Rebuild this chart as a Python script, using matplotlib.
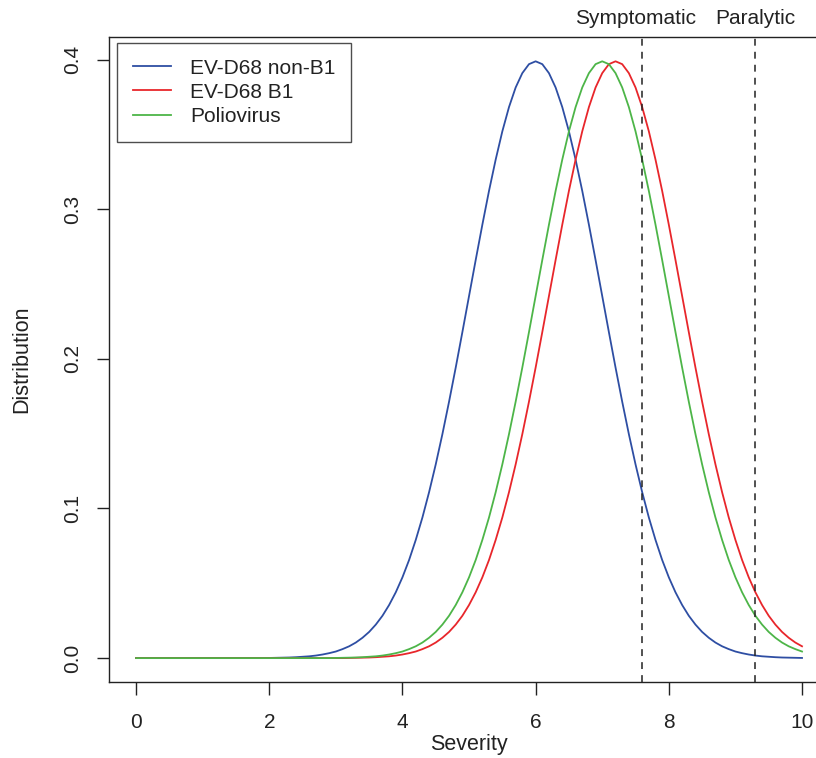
import matplotlib
matplotlib.use("Agg")
import matplotlib.pyplot as plt
from matplotlib.lines import Line2D

plt.rcParams['font.family'] = ['Liberation Sans', 'DejaVu Sans']

# Severity grid (0 to 10, step 0.1)
severity = [i / 10 for i in range(101)]

# Distribution values
non_b1 = [0.0] * 20 + [
    0.0001, 0.0002, 0.0003, 0.0004, 0.0006, 0.0009, 0.0012, 0.0017, 0.0024, 0.0033,
    0.0044, 0.0060, 0.0079, 0.0104, 0.0136, 0.0175, 0.0224, 0.0283, 0.0355, 0.0440,
    0.0540, 0.0656, 0.0790, 0.0940, 0.1109, 0.1295, 0.1497, 0.1714, 0.1942, 0.2179,
    0.2420, 0.2661, 0.2897, 0.3123, 0.3332, 0.3521, 0.3683, 0.3814, 0.3910, 0.3970,
    0.3989,
    0.3970, 0.3910, 0.3814, 0.3683, 0.3521, 0.3332, 0.3123, 0.2897, 0.2661, 0.2420,
    0.2179, 0.1942, 0.1714, 0.1497, 0.1295, 0.1109, 0.0940, 0.0790, 0.0656, 0.0540,
    0.0440, 0.0355, 0.0283, 0.0224, 0.0175, 0.0136, 0.0104, 0.0079, 0.0060, 0.0044,
    0.0033, 0.0024, 0.0017, 0.0012, 0.0009, 0.0006, 0.0004, 0.0003, 0.0002, 0.0001,
]

b1 = [0.0] * 32 + [
    0.0001, 0.0002, 0.0003, 0.0004, 0.0006, 0.0009, 0.0012, 0.0017, 0.0024, 0.0033,
    0.0044, 0.0060, 0.0079, 0.0104, 0.0136, 0.0175, 0.0224, 0.0283, 0.0355, 0.0440,
    0.0540, 0.0656, 0.0790, 0.0940, 0.1109, 0.1295, 0.1497, 0.1714, 0.1942, 0.2179,
    0.2420, 0.2661, 0.2897, 0.3123, 0.3332, 0.3521, 0.3683, 0.3814, 0.3910, 0.3970,
    0.3989,
    0.3970, 0.3910, 0.3814, 0.3683, 0.3521, 0.3332, 0.3123, 0.2897, 0.2661, 0.2420,
    0.2179, 0.1942, 0.1714, 0.1497, 0.1295, 0.1109, 0.0940, 0.0790, 0.0656, 0.0540,
    0.0440, 0.0355, 0.0283, 0.0224, 0.0175, 0.0136, 0.0104, 0.0079,
]

polio = [0.0] * 30 + [
    0.0001, 0.0002, 0.0003, 0.0004, 0.0006, 0.0009, 0.0012, 0.0017, 0.0024, 0.0033,
    0.0044, 0.0060, 0.0079, 0.0104, 0.0136, 0.0175, 0.0224, 0.0283, 0.0355, 0.0440,
    0.0540, 0.0656, 0.0790, 0.0940, 0.1109, 0.1295, 0.1497, 0.1714, 0.1942, 0.2179,
    0.2420, 0.2661, 0.2897, 0.3123, 0.3332, 0.3521, 0.3683, 0.3814, 0.3910, 0.3970,
    0.3989,
    0.3970, 0.3910, 0.3814, 0.3683, 0.3521, 0.3332, 0.3123, 0.2897, 0.2661, 0.2420,
    0.2179, 0.1942, 0.1714, 0.1497, 0.1295, 0.1109, 0.0940, 0.0790, 0.0656, 0.0540,
    0.0440, 0.0355, 0.0283, 0.0224, 0.0175, 0.0136, 0.0104, 0.0079, 0.0060, 0.0044,
]

series_names = ["EV-D68 non-B1", "EV-D68 B1", "Poliovirus"]
series_colors = ["#2E4EA3", "#E8262B", "#4DB548"]

thresholds = [7.6, 9.3]
threshold_label_pos = [7.5, 9.3]
threshold_labels = ["Symptomatic", "Paralytic"]

x_ticks = [0, 2, 4, 6, 8, 10]
y_ticks = [0.0, 0.1, 0.2, 0.3, 0.4]
y_tick_labels = ["0.0", "0.1", "0.2", "0.3", "0.4"]

fig = plt.figure(figsize=(8.16, 7.58), dpi=100)
ax = fig.add_axes([0.1341, 0.1003, 0.8814, 0.8503])

for vals, name, col in zip([non_b1, b1, polio], series_names, series_colors):
    ax.plot(severity, vals, color=col, lw=1.3, label=name)

for t in thresholds:
    ax.axvline(t, color="#222222", lw=1.1, ls=(0, (4.5, 4)))

ymax = max(max(non_b1), max(b1), max(polio))
ax.set_xlim(-0.4, 10.4)
ax.set_ylim(-0.04 * ymax, 1.04 * ymax)

ax.set_xticks(x_ticks)
ax.set_xticklabels([str(v) for v in x_ticks])
ax.set_yticks(y_ticks)
ax.set_yticklabels(y_tick_labels, rotation=90, va="center")
ax.tick_params(direction="out", length=9, width=1.0, labelsize=15, colors="#222222", pad=13)
ax.tick_params(axis="y", pad=11)

for s in ax.spines.values():
    s.set_linewidth(1.0)
    s.set_color("#222222")

ax.set_xlabel("Severity", fontsize=15.5, color="#222222", labelpad=2)
ax.set_ylabel("Distribution", fontsize=15.5, color="#222222", labelpad=22)

for pos, lab in zip(threshold_label_pos, threshold_labels):
    ax.text(pos, 1.014, lab, transform=ax.get_xaxis_transform(), ha="center", va="bottom",
            fontsize=15, color="#222222")

handles = [Line2D([], [], color=c, lw=1.3) for c in series_colors]
leg = ax.legend(handles, series_names, loc="upper left", bbox_to_anchor=(0.0106, 0.9915),
                borderaxespad=0, frameon=True, fancybox=False, fontsize=15,
                handlelength=1.85, handletextpad=0.92, labelspacing=0.25,
                borderpad=0.75, handleheight=0.7)
leg.get_frame().set_edgecolor("#222222")
leg.get_frame().set_linewidth(1.0)
for t in leg.get_texts():
    t.set_color("#222222")

fig.savefig("out.png", dpi=100)
